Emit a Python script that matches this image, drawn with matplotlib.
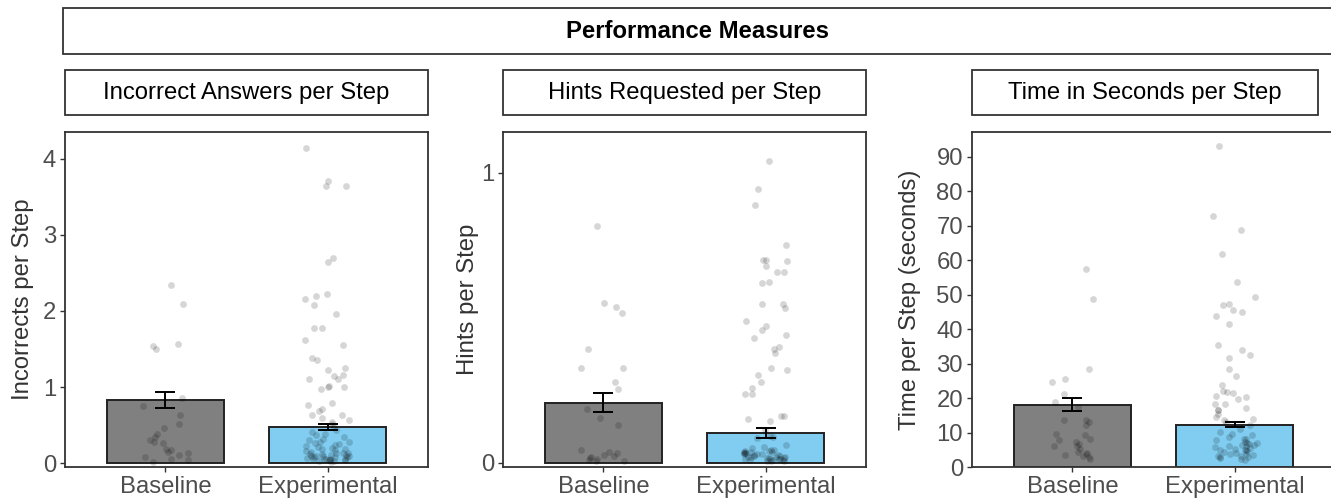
import numpy as np
import matplotlib.pyplot as plt
from matplotlib.patches import Rectangle

plt.rcParams['font.family'] = ['Liberation Sans', 'DejaVu Sans']

groups = ['Baseline', 'Experimental']
panel_titles = ['Incorrect Answers per Step', 'Hints Requested per Step', 'Time in Seconds per Step']
y_labels = ['Incorrects per Step', 'Hints per Step', 'Time per Step (seconds)']

# bar means and error bar half widths
means_incorrect = [0.83, 0.48]
err_incorrect = [0.10, 0.04]
means_hints = [0.207, 0.103]
err_hints = [0.033, 0.017]
means_time = [18.1, 12.3]
err_time = [1.9, 0.8]

# individual students
incorrect_base = [2.34, 2.09, 1.57, 1.54, 1.50, 0.85, 0.75, 0.63, 0.52, 0.46, 0.39, 0.34,
                  0.28, 0.26, 0.19, 0.15, 0.13, 0.11, 0.06, 0.04, 0.02, 0.30, 0.17, 0.08]
incorrect_exp = [4.14, 3.71, 3.64, 3.64, 2.70, 2.64, 2.22, 2.19, 2.16, 2.08, 1.96, 1.77,
                 1.77, 1.62, 1.55, 1.38, 1.36, 1.25, 1.23, 1.16, 1.14, 1.11, 1.10, 1.01,
                 1.00, 1.00, 0.97, 0.79, 0.76, 0.71, 0.68, 0.63, 0.63, 0.59, 0.57, 0.54,
                 0.52, 0.48, 0.43, 0.41, 0.39, 0.37, 0.32, 0.30, 0.28, 0.26, 0.24, 0.21,
                 0.19, 0.17, 0.15, 0.14, 0.13, 0.11, 0.105, 0.09, 0.08, 0.075, 0.06, 0.05,
                 0.04, 0.03, 0.02, 0.12, 0.10, 0.09, 0.07, 0.06, 0.05, 0.04, 0.03, 0.25,
                 0.22, 0.18, 0.16, 0.12, 0.10, 0.08, 0.06, 0.04, 0.35, 0.28, 0.20, 0.14]
hints_base = [0.815, 0.55, 0.537, 0.518, 0.393, 0.326, 0.326, 0.278, 0.254, 0.187, 0.154,
              0.129, 0.045, 0.039, 0.033, 0.028, 0.024, 0.022, 0.016, 0.013, 0.010, 0.008,
              0.005]
hints_exp = [1.039, 0.944, 0.89, 0.752, 0.70, 0.694, 0.70, 0.68, 0.657, 0.657, 0.622, 0.62,
             0.547, 0.547, 0.533, 0.49, 0.459, 0.47, 0.439, 0.43, 0.399, 0.393, 0.378,
             0.326, 0.321, 0.303, 0.28, 0.257, 0.237, 0.237, 0.162, 0.16, 0.151, 0.143,
             0.114, 0.093, 0.091, 0.085, 0.062, 0.056, 0.045, 0.039, 0.036, 0.033, 0.031,
             0.028, 0.024, 0.022, 0.02, 0.016, 0.013, 0.01, 0.008, 0.005, 0.04, 0.035,
             0.03, 0.027, 0.025, 0.02, 0.018, 0.015, 0.012, 0.01, 0.045, 0.038, 0.03,
             0.022, 0.017, 0.012, 0.009, 0.006, 0.05, 0.042, 0.034]
time_base = [57.4, 48.7, 28.5, 24.7, 25.4, 21.3, 18.8, 17.4, 13.5, 13.5, 13.0, 12.1, 9.6,
             9.2, 8.2, 7.7, 7.2, 6.7, 6.2, 6.0, 5.3, 4.3, 4.0, 3.8, 3.6, 3.3, 2.9, 2.4]
time_exp = [93.0, 72.9, 68.9, 61.7, 53.7, 49.4, 47.4, 46.9, 45.5, 45.0, 43.8, 41.4, 35.4,
            33.9, 32.4, 31.7, 28.5, 26.3, 23.7, 22.0, 21.8, 21.5, 20.5, 20.3, 19.8, 18.4,
            18.2, 17.2, 16.6, 16.4, 15.3, 14.5, 14.0, 13.5, 13.0, 12.1, 11.1, 10.1, 9.7,
            9.2, 8.7, 8.2, 7.7, 7.2, 6.9, 6.7, 6.3, 6.0, 5.8, 5.3, 5.0, 4.8, 4.3, 4.0, 3.8,
            3.5, 3.3, 3.0, 2.9, 2.4, 2.1, 7.0, 6.5, 5.5, 4.5, 3.9, 3.2, 2.6, 8.0, 6.1, 4.9]

panels = [
    (means_incorrect, err_incorrect, incorrect_base, incorrect_exp, (-0.05, 4.35), [0, 1, 2, 3, 4]),
    (means_hints, err_hints, hints_base, hints_exp, (-0.014, 1.14), [0, 1]),
    (means_time, err_time, time_base, time_exp, (0, 97.2), list(range(0, 100, 10))),
]

W, H = 1331, 499
fig = plt.figure(figsize=(W / 100, H / 100), dpi=100)

lefts = [65, 503, 972]
label_x = [-0.085, -0.066, -0.14]
ax_w, top_px, bot_px = 363, 132, 467
bar_colors = ['#808080', '#80CDF1']
rng = np.random.default_rng(7)
fs = 17.2

# overall strip
fig.add_artist(Rectangle((63 / W, 1 - 54 / H), 1.0, 46 / H, transform=fig.transFigure,
                         facecolor='white', edgecolor='#333333', linewidth=1.3))
fig.text((63 + 1331) / 2 / W, 1 - 31 / H, 'Performance Measures', ha='center', va='center',
         fontsize=fs, fontweight='bold')

for i, (means, errs, base, exp, ylim, ticks) in enumerate(panels):
    left = lefts[i]
    ax = fig.add_axes([left / W, 1 - bot_px / H, ax_w / W, (bot_px - top_px) / H])
    x = np.arange(1, 3)
    ax.bar(x, means, width=0.72, color=bar_colors, edgecolor='#222222', linewidth=1.4, zorder=2)
    for j, vals in enumerate([base, exp]):
        jit = rng.uniform(-0.14, 0.14, len(vals))
        ax.scatter(x[j] + jit, vals, s=24, color='black', alpha=0.16, linewidths=0, zorder=3)
    ax.errorbar(x, means, yerr=errs, fmt='none', ecolor='black', elinewidth=1.4,
                capsize=7, capthick=1.4, zorder=4)
    ax.set_xlim(0.38, 2.62)
    ax.set_ylim(*ylim)
    ax.set_yticks(ticks)
    ax.set_xticks(x)
    ax.set_xticklabels(groups)
    ax.tick_params(labelsize=fs, colors='#333333', labelcolor='#4d4d4d', length=3.5,
                   width=1, pad=3)
    ax.set_ylabel(y_labels[i], fontsize=fs, color='#333333')
    ax.yaxis.set_label_coords(label_x[i], 0.5)
    for sp in ax.spines.values():
        sp.set_color('#333333')
        sp.set_linewidth(1.3)

    # facet strip
    strip_w = ax_w if i < 2 else 346
    fig.add_artist(Rectangle((left / W, 1 - 115 / H), strip_w / W, 45 / H,
                             transform=fig.transFigure, facecolor='white',
                             edgecolor='#333333', linewidth=1.3))
    fig.text((left + strip_w / 2) / W, 1 - 92.5 / H, panel_titles[i], ha='center',
             va='center', fontsize=fs, color='black')

fig.savefig('out.png', dpi=100)
